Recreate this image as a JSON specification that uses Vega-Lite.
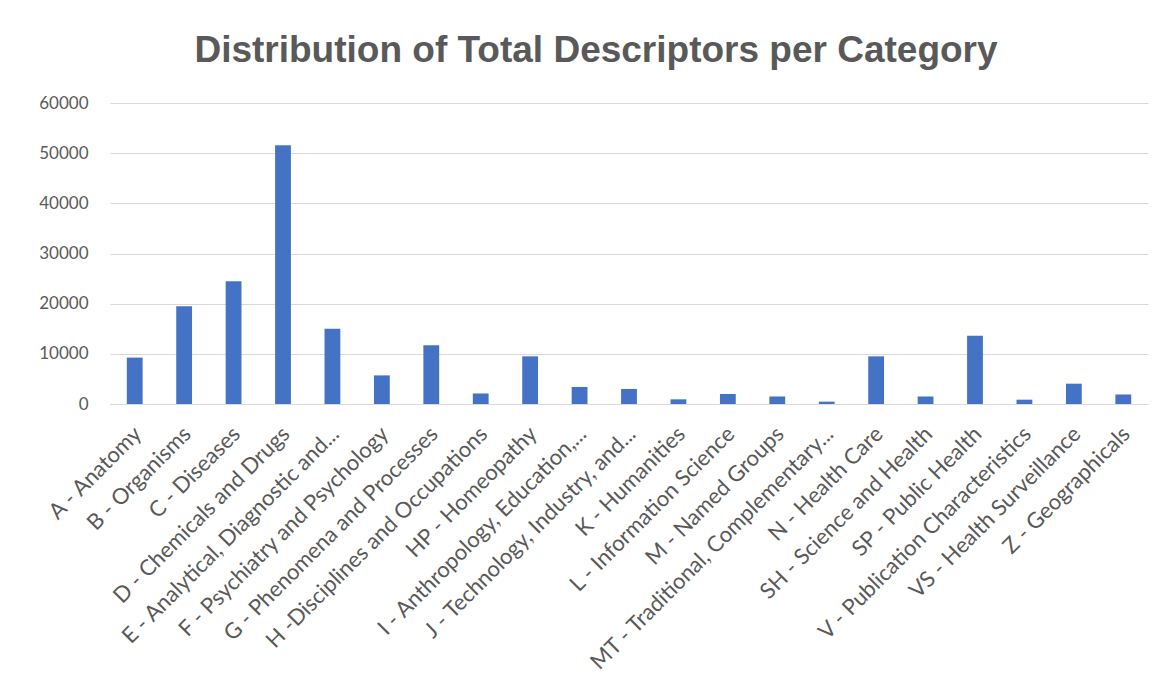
{
  "$schema": "https://vega.github.io/schema/vega-lite/v6.json",
  "width": 1038,
  "height": 301,
  "autosize": {"type": "none"},
  "padding": {"left": 110, "top": 103, "right": 26, "bottom": 277},
  "background": "white",
  "title": {
    "text": "Distribution of Total Descriptors per Category",
    "font": "Liberation Sans",
    "fontSize": 37,
    "fontWeight": "bold",
    "color": "#595959",
    "anchor": "middle",
    "dx": -33,
    "offset": 24
  },
  "data": {
    "values": [
      {"category": "A - Anatomy", "total": 9250},
      {"category": "B - Organisms", "total": 19500},
      {"category": "C - Diseases", "total": 24450},
      {"category": "D - Chemicals and Drugs", "total": 51600},
      {"category": "E - Analytical, Diagnostic and...", "total": 15000},
      {"category": "F - Psychiatry and Psychology", "total": 5700},
      {"category": "G - Phenomena and Processes", "total": 11700},
      {"category": "H -Disciplines and Occupations", "total": 2100},
      {"category": "HP - Homeopathy", "total": 9500},
      {"category": "I - Anthropology, Education,...", "total": 3400},
      {"category": "J - Technology, Industry, and...", "total": 3000},
      {"category": "K - Humanities", "total": 930},
      {"category": "L - Information Science", "total": 2000},
      {"category": "M - Named Groups", "total": 1500},
      {"category": "MT - Traditional, Complementary...", "total": 470},
      {"category": "N - Health Care", "total": 9500},
      {"category": "SH - Science and Health", "total": 1500},
      {"category": "SP - Public Health", "total": 13600},
      {"category": "V - Publication Characteristics", "total": 860},
      {"category": "VS - Health Surveillance", "total": 4050},
      {"category": "Z - Geographicals", "total": 1900}
    ]
  },
  "mark": {"type": "bar", "color": "#4472C4"},
  "encoding": {
    "x": {
      "field": "category",
      "type": "nominal",
      "sort": null,
      "scale": {"paddingInner": 0.68, "paddingOuter": 0.34},
      "axis": {
        "title": null,
        "labelAngle": -45,
        "labelFont": "Lato",
        "labelFontSize": 22,
        "labelColor": "#595959",
        "labelPadding": 19,
        "labelOffset": -4,
        "labelLimit": 500,
        "labelOverlap": false,
        "ticks": false,
        "domain": true,
        "domainColor": "#d9d9d9",
        "domainWidth": 1
      }
    },
    "y": {
      "field": "total",
      "type": "quantitative",
      "scale": {"domain": [0, 60000]},
      "axis": {
        "title": null,
        "values": [0, 10000, 20000, 30000, 40000, 50000, 60000],
        "format": "d",
        "labelFont": "Lato",
        "labelFontSize": 17,
        "labelColor": "#595959",
        "labelPadding": 22,
        "ticks": false,
        "domain": false,
        "grid": true,
        "gridColor": "#d9d9d9",
        "gridWidth": 1
      }
    }
  },
  "config": {"view": {"stroke": null}}
}
